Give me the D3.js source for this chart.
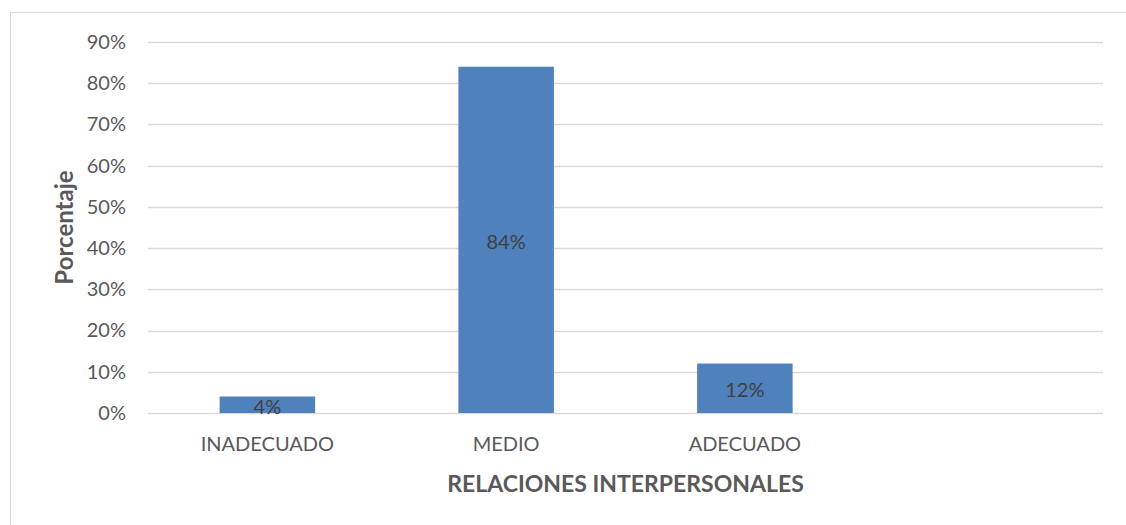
<!DOCTYPE html>
<html>
<head>
<meta charset="utf-8">
<script src="https://cdn.jsdelivr.net/npm/d3@7"></script>
<style>
  body { margin: 0; background: #fff; }
  svg { display: block; font-family: Lato, "Open Sans", sans-serif; }
</style>
</head>
<body>
<div id="chart"></div>
<script>
const categories = ["INADECUADO", "MEDIO", "ADECUADO", ""];
const values = [0.04, 0.84, 0.12];
const yTicks = [0, 0.1, 0.2, 0.3, 0.4, 0.5, 0.6, 0.7, 0.8, 0.9];
const xTitle = "RELACIONES INTERPERSONALES";
const yTitle = "Porcentaje";

const W = 1126, H = 525;
const margin = { top: 42, right: 23, bottom: 112, left: 148 };
const width = W - margin.left - margin.right;
const height = H - margin.top - margin.bottom;

const svg = d3.select('#chart')
  .append('svg')
  .attr('width', W)
  .attr('height', H);

// chart area border
svg.append('rect')
  .attr('x', 10.5)
  .attr('y', 12.5)
  .attr('width', W)
  .attr('height', H)
  .attr('fill', 'none')
  .attr('stroke', '#d9d9d9')
  .attr('stroke-width', 1);

const g = svg.append('g')
  .attr('transform', `translate(${margin.left},${margin.top})`);

const x = d3.scaleBand()
  .domain(categories)
  .range([0, width])
  .paddingInner(0.6)
  .paddingOuter(0.3);

const y = d3.scaleLinear()
  .domain([0, 0.9])
  .range([height, 0]);

// gridlines
g.selectAll('.grid')
  .data(yTicks)
  .join('line')
  .attr('class', 'grid')
  .attr('x1', 0)
  .attr('x2', width)
  .attr('y1', d => Math.round(y(d)) + 0.5)
  .attr('y2', d => Math.round(y(d)) + 0.5)
  .attr('stroke', '#d9d9d9')
  .attr('stroke-width', 1.3);

// y axis labels
const yAxis = g.append('g')
  .call(d3.axisLeft(y).tickValues(yTicks).tickSize(0).tickPadding(22).tickFormat(d3.format('.0%')));
yAxis.select('.domain').remove();
yAxis.selectAll('text')
  .style('font-size', '20px')
  .style('fill', '#595959')
  .style('font-family', 'Lato, sans-serif');

// bars
const data = values.map((v, i) => ({ cat: categories[i], value: v }));
g.selectAll('.bar')
  .data(data)
  .join('rect')
  .attr('class', 'bar')
  .attr('x', d => x(d.cat))
  .attr('y', d => y(d.value))
  .attr('width', x.bandwidth())
  .attr('height', d => height - y(d.value))
  .attr('fill', '#4f81bd');

// data labels (centered in bar)
g.selectAll('.lbl')
  .data(data)
  .join('text')
  .attr('class', 'lbl')
  .attr('x', d => x(d.cat) + x.bandwidth() / 2)
  .attr('y', d => (y(d.value) + height) / 2 + 2)
  .attr('dy', '0.35em')
  .attr('text-anchor', 'middle')
  .style('font-size', '20px')
  .style('fill', '#404040')
  .text(d => d3.format('.0%')(d.value));

// x axis labels
const xAxis = g.append('g')
  .attr('transform', `translate(0,${height})`)
  .call(d3.axisBottom(x).tickSize(0).tickPadding(24));
xAxis.select('.domain').remove();
xAxis.selectAll('text')
  .style('font-size', '20px')
  .style('fill', '#595959')
  .style('font-family', 'Lato, sans-serif');

// axis titles
g.append('text')
  .attr('x', width / 2)
  .attr('y', height + 79)
  .attr('text-anchor', 'middle')
  .style('font-size', '23px')
  .style('font-weight', 'bold')
  .style('fill', '#595959')
  .text(xTitle);

g.append('text')
  .attr('transform', 'rotate(-90)')
  .attr('x', -height / 2)
  .attr('y', -75)
  .attr('text-anchor', 'middle')
  .style('font-size', '24px')
  .style('font-weight', 'bold')
  .style('fill', '#595959')
  .text(yTitle);
</script>
</body>
</html>
